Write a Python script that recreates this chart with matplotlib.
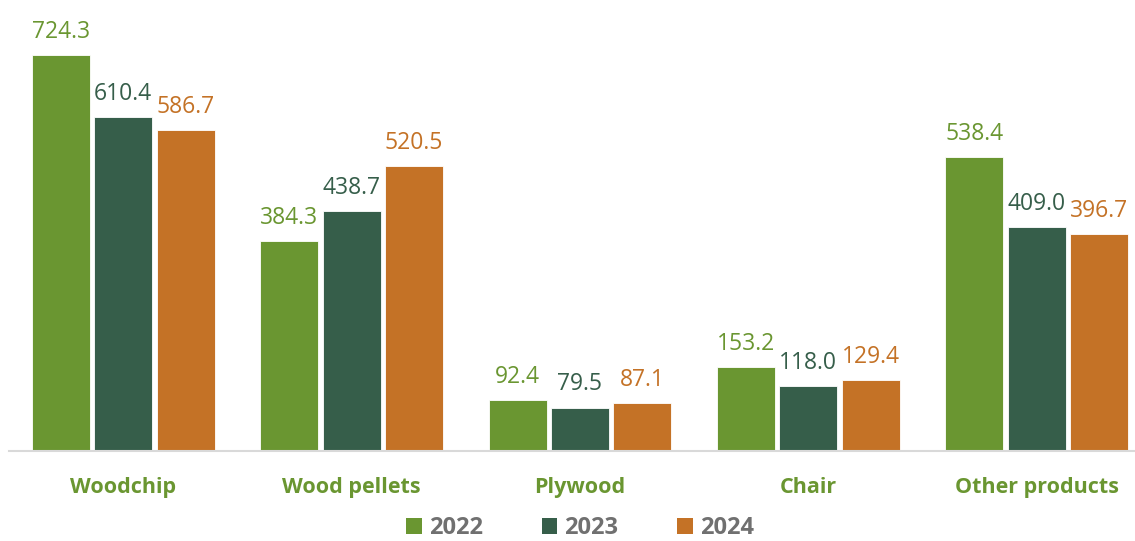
import numpy as np
import matplotlib.pyplot as plt
from matplotlib.patches import Patch

categories = ['Woodchip', 'Wood pellets', 'Plywood', 'Chair', 'Other products']
years = ['2022', '2023', '2024']
v2022 = [724.3, 384.3, 92.4, 153.2, 538.4]
v2023 = [610.4, 438.7, 79.5, 118.0, 409.0]
v2024 = [586.7, 520.5, 87.1, 129.4, 396.7]

colors = ['#6a9631', '#365e4a', '#c47226']
plt.rcParams['font.family'] = ['Open Sans', 'DejaVu Sans']

fig = plt.figure(figsize=(11.35, 5.41), dpi=100)
ax = fig.add_axes([9 / 1135, 90 / 541, (1135 - 9) / 1135, 451 / 541])

x = np.arange(len(categories))
width = 0.254
step = 0.273
for i, (vals, c) in enumerate(zip([v2022, v2023, v2024], colors)):
    pos = x + (i - 1) * step
    ax.bar(pos, vals, width, color=c, edgecolor='white', linewidth=0.6)
    for p, v in zip(pos, vals):
        ax.annotate(f'{v:.1f}', (p, v), xytext=(0, 8), textcoords='offset points',
                    ha='center', va='bottom', fontsize=16.5, color=c)

ax.set_xlim(-0.5, 4.43)
ax.set_ylim(0, 825)
ax.set_yticks([])
ax.set_xticks(x)
ax.set_xticklabels(categories, fontsize=15.5, fontweight='bold', color='#6a9631')
ax.tick_params(axis='x', length=0, pad=19)
for s in ['top', 'right', 'left']:
    ax.spines[s].set_visible(False)
ax.spines['bottom'].set_color('#d9d9d9')
ax.spines['bottom'].set_linewidth(1.5)

handles = [Patch(facecolor=c, label=y) for c, y in zip(colors, years)]
leg = fig.legend(handles=handles, loc='center', bbox_to_anchor=(580 / 1135, 13 / 541),
                 ncol=3, frameon=False, handlelength=0.65, handleheight=0.65,
                 handletextpad=0.3, columnspacing=2.5, borderpad=0.1,
                 prop={'weight': 'bold', 'size': 17})
for t in leg.get_texts():
    t.set_color('#707070')

fig.savefig('out.png', dpi=100)
